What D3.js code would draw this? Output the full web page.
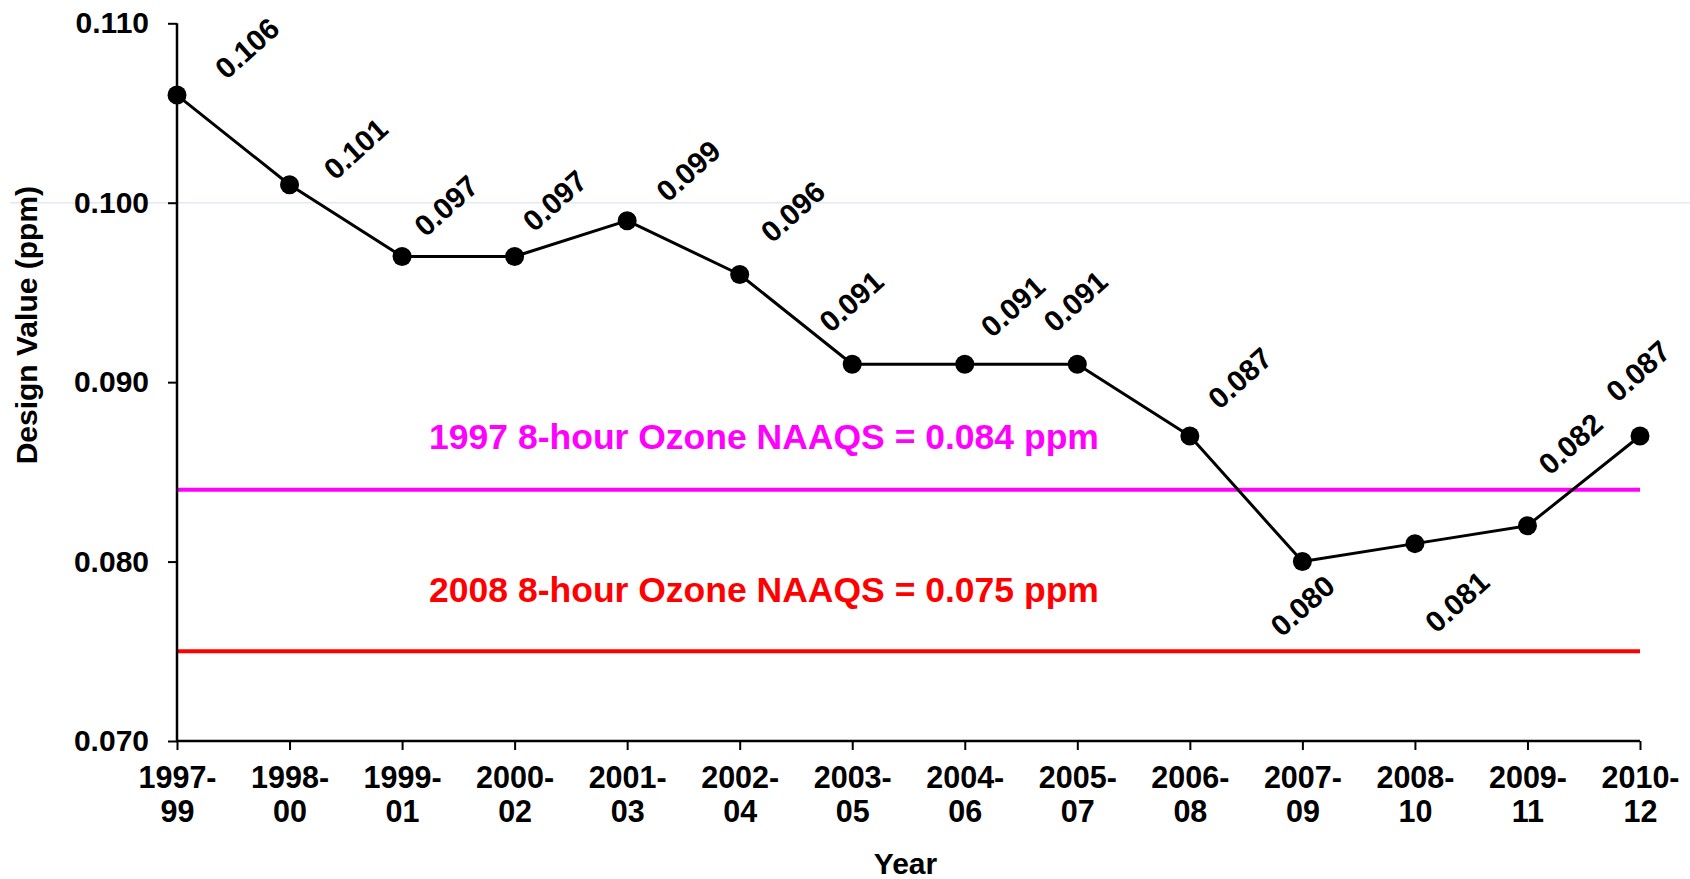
<!DOCTYPE html>
<html>
<head>
<meta charset="utf-8">
<script src="https://cdn.jsdelivr.net/npm/d3@7/dist/d3.min.js"></script>
<style>
  html, body { margin: 0; padding: 0; background: #fff; }
  svg { display: block; font-family: "Liberation Sans", Arial, sans-serif; font-weight: bold; }
</style>
</head>
<body>
<svg id="chart" width="1690" height="879"></svg>
<script>
// ---- data ----
const periods = ["1997-99","1998-00","1999-01","2000-02","2001-03","2002-04","2003-05",
                 "2004-06","2005-07","2006-08","2007-09","2008-10","2009-11","2010-12"];
const designValues = [0.106,0.101,0.097,0.097,0.099,0.096,0.091,0.091,0.091,0.087,0.080,0.081,0.082,0.087];
const yTicks = [0.070,0.080,0.090,0.100,0.110];
const standardLabels = ["1997 8-hour Ozone NAAQS = 0.084 ppm","2008 8-hour Ozone NAAQS = 0.075 ppm"];
const standardValues = [0.084, 0.075];
const gridValues = [0.100];

// ---- layout / style (kept separate from data) ----
const standardColors = ["#FF00FF", "#FF0000"];
const labelNudges = [[70,-47],[66,-36],[44,-51],[40,-56],[61,-50],[53,-63],[-1,-63],
                     [48,-58],[-2,-63],[50,-58],[0,44],[42,58],[43,-82],[-2,-65]];
const standardTextBaselines = [449, 602];

const svg = d3.select("#chart");
const plotLeft = 177, plotRight = 1640, plotTop = 23.3, plotBottom = 741;

const x = d3.scalePoint().domain(periods).range([plotLeft, plotRight]);
const y = d3.scaleLinear().domain([0.07, 0.11]).range([plotBottom, plotTop]);

// faint gridline
svg.selectAll("line.grid").data(gridValues).enter().append("line")
  .attr("x1", 10).attr("x2", 1690)
  .attr("y1", d => y(d)).attr("y2", d => y(d))
  .attr("stroke", "#e2eaf4").attr("stroke-width", 1.5);

// standard lines
svg.selectAll("line.std").data(standardValues).enter().append("line")
  .attr("x1", plotLeft).attr("x2", plotRight)
  .attr("y1", d => y(d)).attr("y2", d => y(d))
  .attr("stroke", (d, i) => standardColors[i]).attr("stroke-width", 4);

svg.selectAll("text.std").data(standardLabels).enter().append("text")
  .attr("x", 764).attr("y", (d, i) => standardTextBaselines[i])
  .attr("text-anchor", "middle")
  .attr("fill", (d, i) => standardColors[i])
  .style("font-size", "35.5px")
  .text(d => d);

// y axis
const yAxis = svg.append("g").attr("transform", `translate(${plotLeft},0)`)
  .call(d3.axisLeft(y).tickValues(yTicks).tickFormat(d3.format(".3f")).tickSize(9).tickPadding(19));
yAxis.select(".domain").attr("stroke", "#000").attr("stroke-width", 2.5).attr("d", `M0,${plotTop}V${plotBottom}`);
yAxis.selectAll(".tick line").attr("stroke", "#000").attr("stroke-width", 2);
yAxis.selectAll(".tick text").attr("fill", "#000").style("font-size", "30px")
  .style("font-family", "'Liberation Sans', Arial, sans-serif").style("font-weight", "bold");

// x axis
const xAxis = svg.append("g").attr("transform", `translate(0,${plotBottom})`)
  .call(d3.axisBottom(x).tickSize(9).tickFormat(""));
xAxis.select(".domain").attr("stroke", "#000").attr("stroke-width", 2.5).attr("d", `M${plotLeft},0H${plotRight}`);
xAxis.selectAll(".tick line").attr("stroke", "#000").attr("stroke-width", 2);
xAxis.selectAll(".tick text").remove();
xAxis.selectAll(".tick").each(function(d) {
  const parts = d.split("-");
  const t = d3.select(this).append("text")
    .attr("text-anchor", "middle").attr("fill", "#000")
    .style("font-size", "30.5px");
  t.append("tspan").attr("x", 0).attr("y", 47).text(parts[0] + "-");
  t.append("tspan").attr("x", 0).attr("y", 81).text(parts[1]);
});

// axis titles
svg.append("text").attr("x", (plotLeft + plotRight) / 2 - 3).attr("y", 874)
  .attr("text-anchor", "middle").style("font-size", "30px").text("Year");
svg.append("text")
  .attr("transform", `translate(37,${(plotTop + plotBottom) / 2 - 57}) rotate(-90)`)
  .attr("text-anchor", "middle").style("font-size", "30px").text("Design Value (ppm)");

// series line
const line = d3.line().x((d, i) => x(periods[i])).y(d => y(d));
svg.append("path").datum(designValues)
  .attr("d", line).attr("fill", "none")
  .attr("stroke", "#000").attr("stroke-width", 3).attr("stroke-linejoin", "round");

svg.selectAll("circle.pt").data(designValues).enter().append("circle")
  .attr("cx", (d, i) => x(periods[i])).attr("cy", d => y(d))
  .attr("r", 9.5).attr("fill", "#000");

// data labels
svg.selectAll("text.val").data(designValues).enter().append("text")
  .attr("transform", (d, i) =>
    `translate(${x(periods[i]) + labelNudges[i][0]},${y(d) + labelNudges[i][1]}) rotate(-42)`)
  .attr("text-anchor", "middle").attr("dominant-baseline", "central")
  .attr("fill", "#000").style("font-size", "29.5px")
  .text(d => d3.format(".3f")(d));
</script>
</body>
</html>
